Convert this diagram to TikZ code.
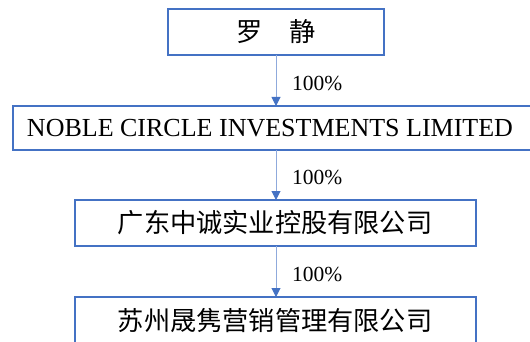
\documentclass[tikz,border=0pt]{standalone}
\usepackage{fontspec}
\setmainfont{Liberation Serif}
\newfontfamily\cjk{Noto Sans CJK SC}
\usetikzlibrary{arrows.meta}
\definecolor{boxblue}{HTML}{4472C4}
\definecolor{lineblue}{HTML}{8FAADC}
\begin{document}
\begin{tikzpicture}[x=1pt,y=1pt,
  entbox/.style={draw=boxblue, line width=1.5pt},
  enttext/.style={inner sep=0pt, font=\fontsize{26}{30}\selectfont},
  cjktext/.style={inner sep=0pt, font=\cjk\fontsize{26.2}{30}\selectfont},
  pct/.style={inner sep=0pt, anchor=west, font=\fontsize{21.5}{24}\selectfont},
  link/.style={draw=lineblue, line width=1pt, -{Triangle[length=9pt,width=9pt,color=boxblue]}}]
\useasboundingbox (0,0) rectangle (530,-342);
% boxes
\draw[entbox] (168,-9) rectangle (384,-55);
\coordinate (b1t) at (276,-55);
\draw[entbox] (545,-106) -- (13,-106) -- (13,-150) -- (545,-150);
\coordinate (b2t) at (276,-106);
\coordinate (b2b) at (276,-150);
\draw[entbox] (75,-200) rectangle (476,-246);
\coordinate (b3t) at (276,-200);
\coordinate (b3b) at (276,-246);
\draw[entbox] (75,-297) rectangle (476,-345);
\coordinate (b4t) at (276,-297);
% texts
\node[cjktext] (n1) at (276,-32) {罗　静};
\node[enttext] (n2) at (270,-128) {NOBLE CIRCLE INVESTMENTS LIMITED};
\node[cjktext] (n3) at (275,-223) {广东中诚实业控股有限公司};
\node[cjktext] (n4) at (275,-321) {苏州晟隽营销管理有限公司};
% connectors
\draw[link] (b1t) -- (b2t);
\draw[link] (b2b) -- (b3t);
\draw[link] (b3b) -- (b4t);
\node[pct] (p1) at (292,-83) {100\%};
\node[pct] (p2) at (292,-177) {100\%};
\node[pct] (p3) at (292,-274) {100\%};
\end{tikzpicture}
\end{document}
